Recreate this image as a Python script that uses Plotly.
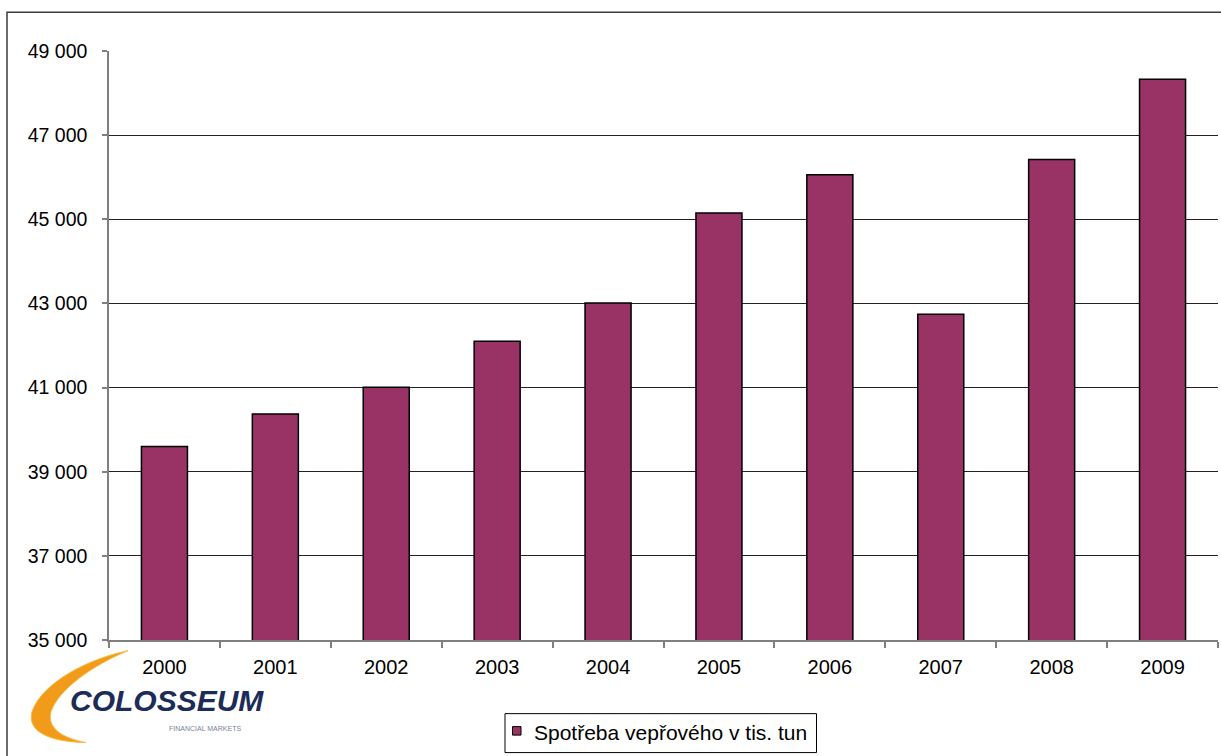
import plotly.graph_objects as go

years = ["2000", "2001", "2002", "2003", "2004", "2005", "2006", "2007", "2008", "2009"]
consumption = [39600, 40370, 41010, 42100, 43010, 45150, 46060, 42740, 46420, 48330]
series_name = "Spotřeba vepřového v tis. tun"
y_ticks = [35000, 37000, 39000, 41000, 43000, 45000, 47000, 49000]

W, H = 1221, 756
L, R, T, B = 109, 1218, 50.7, 640.3
BAR_COLOR = "#993366"


def px(x):
    return (x - L) / (R - L)


def py(y):
    return (B - y) / (B - T)


def pt(x, y):
    return f"{px(x):.5f},{py(y):.5f}"


fig = go.Figure()
fig.add_trace(go.Bar(
    x=years, y=consumption, name=series_name,
    marker=dict(color=BAR_COLOR, line=dict(color="#000000", width=1.5)),
    showlegend=False,
))

shapes = []
# outer chart frame
shapes.append(dict(type="rect", xref="paper", yref="paper",
                   x0=px(7), x1=px(1240), y0=py(775), y1=py(12),
                   line=dict(color="#3a3a3a", width=1.5), layer="below"))
# legend box
shapes.append(dict(type="rect", xref="paper", yref="paper",
                   x0=px(505), x1=px(816.5), y0=py(753), y1=py(714),
                   line=dict(color="#000000", width=1), fillcolor="white"))
shapes.append(dict(type="rect", xref="paper", yref="paper",
                   x0=px(512.5), x1=px(521), y0=py(735.5), y1=py(727),
                   line=dict(color="#000000", width=1), fillcolor=BAR_COLOR))

# logo swoosh (orange crescent)
swoosh = (f"M {pt(128, 651)} "
          f"C {pt(88, 659)} {pt(42, 683)} {pt(32, 712)} "
          f"C {pt(27, 730)} {pt(45, 742)} {pt(86, 743)} "
          f"C {pt(60, 738)} {pt(47, 727)} {pt(51, 712)} "
          f"C {pt(59, 689)} {pt(94, 665)} {pt(128, 651)} Z")
shapes.append(dict(type="path", xref="paper", yref="paper", path=swoosh,
                   fillcolor="#f29a1a", line=dict(color="#f8bd45", width=1)))

annotations = [
    dict(x=px(532), y=py(733), xref="paper", yref="paper", text=series_name,
         showarrow=False, xanchor="left", yanchor="middle",
         font=dict(family="Liberation Sans, Arial, sans-serif", size=21, color="#000000")),
    dict(x=px(68), y=py(701), xref="paper", yref="paper", text="COLOSSEUM",
         showarrow=False, xanchor="left", yanchor="middle",
         font=dict(family="Liberation Sans Narrow, Liberation Sans, Arial, sans-serif",
                   size=30, color="#1c2b57", weight="bold", style="italic")),
    dict(x=px(205), y=py(729), xref="paper", yref="paper", text="FINANCIAL MARKETS",
         showarrow=False, xanchor="center", yanchor="middle",
         font=dict(family="Liberation Sans, sans-serif", size=7, color="#7a8296")),
]

fig.update_layout(
    width=W, height=H,
    margin=dict(l=L, r=W - R, t=T, b=H - B, pad=0),
    paper_bgcolor="white", plot_bgcolor="white",
    separators=", ",
    bargap=0.585,
    font=dict(family="Liberation Sans, Arial, sans-serif", size=20, color="#000000"),
    xaxis=dict(
        type="category", showgrid=False, showline=True, linecolor="#7f7f7f", linewidth=1.5,
        ticks="outside", tickson="boundaries", ticklen=6, tickcolor="#7f7f7f", tickwidth=1.5,
        ticklabelstandoff=8, tickfont=dict(size=20),
    ),
    yaxis=dict(
        range=[35000, 49000], tickvals=y_ticks, tickformat=",d",
        showgrid=True, gridcolor="#222222", gridwidth=1,
        showline=True, linecolor="#7f7f7f", linewidth=1.5,
        ticks="outside", ticklen=5, tickcolor="#7f7f7f", tickwidth=1.5,
        ticklabelstandoff=11, tickfont=dict(size=19.5), zeroline=False,
    ),
    shapes=shapes,
    annotations=annotations,
)

fig.write_html(
    "out.html",
    config={"displayModeBar": False},
    post_script="document.body.style.margin='0';document.body.style.overflow='hidden';",
)
